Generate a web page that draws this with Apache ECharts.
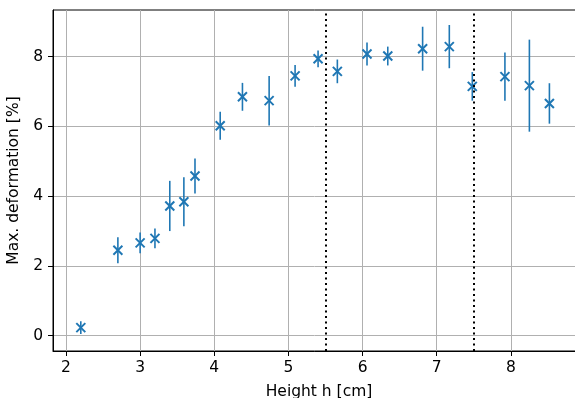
<!DOCTYPE html>
<html>
<head>
<meta charset="utf-8">
<script src="https://cdn.jsdelivr.net/npm/echarts@6/dist/echarts.min.js"></script>
<style>
  html, body { margin: 0; padding: 0; background: #fff; overflow: hidden; }
  #chart { width: 575px; height: 398px; }
</style>
</head>
<body>
<div id="chart"></div>
<script>
  // measured data (height in cm, max deformation in %, error = half bar length)
  var heights = [2.2, 2.7, 3.0, 3.2, 3.4, 3.59, 3.74, 4.08, 4.38, 4.74, 5.09, 5.4, 5.66, 6.06, 6.34, 6.81, 7.17, 7.48, 7.92, 8.25, 8.52]
  var deformation = [0.23, 2.45, 2.66, 2.79, 3.72, 3.84, 4.58, 6.02, 6.85, 6.74, 7.45, 7.94, 7.58, 8.08, 8.02, 8.23, 8.29, 7.15, 7.43, 7.17, 6.66]
  var errors = [0.18, 0.37, 0.3, 0.28, 0.72, 0.7, 0.5, 0.4, 0.4, 0.71, 0.31, 0.24, 0.34, 0.33, 0.27, 0.63, 0.62, 0.41, 0.69, 1.32, 0.58]
  var thresholds = [5.5, 7.5]
  var xTicks = [2, 3, 4, 5, 6, 7, 8]
  var yTicks = [0, 2, 4, 6, 8]

  var blue = '#1f77b4'
  var font = 'DejaVu Sans'

  var points = heights.map(function (h, i) {
    return [h, deformation[i], deformation[i] - errors[i], deformation[i] + errors[i]]
  })

  function renderErr(params, api) {
    var x = api.value(0)
    var c = api.coord([x, api.value(1)])
    var lo = api.coord([x, api.value(2)])
    var hi = api.coord([x, api.value(3)])
    var s = 4.5
    var st = { stroke: blue, lineWidth: 1.6 }
    return {
      type: 'group',
      children: [
        { type: 'line', shape: { x1: lo[0], y1: lo[1], x2: hi[0], y2: hi[1] }, style: st },
        { type: 'line', shape: { x1: c[0] - s, y1: c[1] - s, x2: c[0] + s, y2: c[1] + s }, style: { stroke: blue, lineWidth: 2 } },
        { type: 'line', shape: { x1: c[0] - s, y1: c[1] + s, x2: c[0] + s, y2: c[1] - s }, style: { stroke: blue, lineWidth: 2 } }
      ]
    }
  }

  var chart = echarts.init(document.getElementById('chart'))
  chart.setOption({
    animation: false,
    grid: {
      left: 53,
      top: 10,
      right: -10,
      bottom: 47,
      outerBoundsMode: 'none',
      containLabel: false,
      show: true,
      borderColor: '#000',
      borderWidth: 1
    },
    xAxis: {
      type: 'value',
      min: 1.825,
      max: 9.0,
      name: 'Height h [cm]',
      nameLocation: 'middle',
      nameGap: 33,
      nameTextStyle: { fontFamily: font, fontSize: 15.5, color: '#000' },
      axisLine: { onZero: false, lineStyle: { color: '#000', width: 1 } },
      axisTick: { length: 5, customValues: xTicks, lineStyle: { color: '#000' } },
      axisLabel: { customValues: xTicks, margin: 9, fontFamily: font, fontSize: 15.5, color: '#000' },
      splitLine: { show: true, lineStyle: { color: '#b0b0b0', width: 1 } }
    },
    yAxis: {
      type: 'value',
      min: -0.44,
      max: 9.34,
      name: 'Max. deformation [%]',
      nameLocation: 'middle',
      nameGap: 22,
      nameTextStyle: { fontFamily: font, fontSize: 15.5, color: '#000' },
      axisLine: { show: true, onZero: false, lineStyle: { color: '#000', width: 1 } },
      axisTick: { show: true, length: 5, customValues: yTicks, lineStyle: { color: '#000' } },
      axisLabel: { customValues: yTicks, margin: 10, fontFamily: font, fontSize: 15.5, color: '#000' },
      splitLine: { show: true, lineStyle: { color: '#b0b0b0', width: 1 } }
    },
    series: [
      {
        type: 'custom',
        renderItem: renderErr,
        data: points,
        z: 3,
        markLine: {
          silent: true,
          symbol: 'none',
          label: { show: false },
          lineStyle: { color: '#000', type: [2, 3.5], width: 2 },
          data: thresholds.map(function (t) { return { xAxis: t } })
        }
      }
    ]
  })
</script>
</body>
</html>
